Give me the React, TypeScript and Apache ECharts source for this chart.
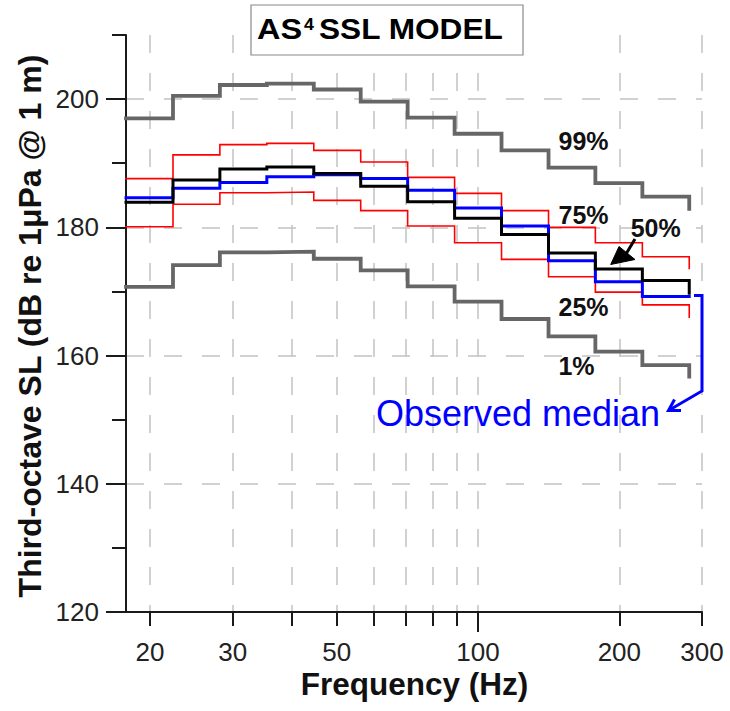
import React, { useEffect, useRef } from "react";
import * as echarts from "echarts";

// Third-octave band edges (Hz): lower edge of each band, plus upper edge of last band
const bandEdgesHz = [17.78, 22.39, 28.18, 35.48, 44.67, 56.23, 70.79, 89.13, 112.2, 141.3, 177.8, 223.9, 281.8];

// Model percentiles (dB re 1 µPa @ 1 m), one value per band + closing value
const p99 = [197.0, 200.5, 202.2, 202.4, 201.5, 199.6, 197.1, 194.6, 192.0, 189.3, 186.9, 184.8, 182.9];
const p75 = [187.6, 191.3, 192.9, 193.1, 192.0, 190.2, 187.8, 185.3, 182.6, 180.0, 177.6, 175.4, 173.6];
const p50 = [183.9, 187.4, 189.1, 189.4, 188.4, 186.4, 184.0, 181.4, 178.9, 176.0, 173.5, 171.7, 169.7];
const p25 = [180.1, 183.6, 185.4, 185.5, 184.2, 182.6, 180.2, 177.6, 175.0, 172.3, 169.9, 167.9, 166.0];
const p1 = [170.7, 174.1, 176.1, 176.2, 175.1, 173.3, 170.8, 168.4, 165.7, 163.0, 160.6, 158.5, 156.7];
const observedMedian = [184.6, 186.1, 187.0, 187.9, 188.2, 187.6, 185.8, 183.0, 180.2, 174.8, 171.5, 169.2, 169.2];

// Axes
const xMinHz = 17.78;
const xMaxHz = 300;
const xTickHz = [20, 30, 40, 50, 60, 70, 80, 90, 100, 200, 300];
const xLabelHz = [20, 30, 50, 100, 200, 300];
const xMajorTickHz = [100];
const yMin = 120;
const yMax = 210;
const yLabelTicks = [120, 140, 160, 180, 200];
const yMinorTicks = [130, 150, 170, 190, 210];

const FONT = "'Liberation Sans', Arial, Helvetica, sans-serif";

const lg = (v: number) => Math.log10(v);
const toSeries = (vals: number[]) => bandEdgesHz.map((e, i) => [lg(e), vals[i]]);

export default function App() {
  const ref = useRef<HTMLDivElement>(null);

  useEffect(() => {
    if (!ref.current) return;
    const chart = echarts.init(ref.current, null, { renderer: "svg" });

    const stepLine = (name: string, vals: number[], color: string, width: number, z: number) => ({
      name,
      type: "line",
      step: "end",
      data: toSeries(vals),
      showSymbol: false,
      symbol: "none",
      xAxisIndex: 0,
      yAxisIndex: 0,
      z,
      lineStyle: { color, width, cap: "square", join: "miter" },
    });

    const pctLabel = (text: string, x: number, y: number) => ({
      type: "text",
      x,
      y,
      z: 50,
      style: {
        text,
        fill: "#111",
        font: `bold 25px ${FONT}`,
        textAlign: "center",
        textVerticalAlign: "middle",
      },
    });

    const option: any = {
      animation: false,
      backgroundColor: "#fff",
      grid: { left: 126, right: 28, top: 35, bottom: 99, containLabel: false },
      xAxis: [
        {
          type: "value",
          min: lg(xMinHz),
          max: lg(xMaxHz),
          position: "bottom",
          axisLine: { show: true, onZero: false, lineStyle: { color: "#1a1a1a", width: 2 } },
          axisTick: {
            show: true,
            inside: false,
            length: 14,
            customValues: xTickHz.map(lg),
            lineStyle: { color: "#1a1a1a", width: 2 },
          },
          axisLabel: {
            show: true,
            customValues: xLabelHz.map(lg),
            formatter: (v: number) => String(Math.round(Math.pow(10, v))),
            margin: 27,
            color: "#222",
            fontSize: 26,
            fontFamily: FONT,
          },
          splitLine: {
            show: true,
            lineStyle: { color: "#c2c2c2", width: 1.5, type: [18, 20] },
          },
        },
        {
          type: "value",
          min: lg(xMinHz),
          max: lg(xMaxHz),
          position: "bottom",
          axisLine: { show: false },
          axisTick: {
            show: true,
            length: 20,
            customValues: xMajorTickHz.map(lg),
            lineStyle: { color: "#1a1a1a", width: 2 },
          },
          axisLabel: { show: false },
          splitLine: { show: false },
        },
      ],
      yAxis: [
        {
          type: "value",
          min: yMin,
          max: yMax,
          position: "left",
          axisLine: { show: true, onZero: false, lineStyle: { color: "#1a1a1a", width: 2 } },
          axisTick: {
            show: true,
            length: 20,
            customValues: yLabelTicks,
            lineStyle: { color: "#1a1a1a", width: 2 },
          },
          axisLabel: {
            show: true,
            customValues: yLabelTicks,
            margin: 27,
            color: "#222",
            fontSize: 26,
            fontFamily: FONT,
          },
          splitLine: {
            show: true,
            lineStyle: { color: "#c2c2c2", width: 1.5, type: [18, 20] },
          },
        },
        {
          type: "value",
          min: yMin,
          max: yMax,
          position: "left",
          axisLine: { show: false },
          axisTick: {
            show: true,
            length: 14,
            customValues: yMinorTicks,
            lineStyle: { color: "#1a1a1a", width: 2 },
          },
          axisLabel: { show: false },
          splitLine: { show: false },
        },
      ],
      series: [
        stepLine("99%", p99, "#666666", 3.8, 2),
        stepLine("1%", p1, "#666666", 3.8, 2),
        stepLine("75%", p75, "#ff0000", 1.6, 3),
        stepLine("25%", p25, "#ff0000", 1.6, 3),
        stepLine("Observed median", observedMedian, "#0000ff", 3, 4),
        stepLine("50%", p50, "#000000", 3, 5),
      ],
      graphic: [
        // title box
        {
          type: "rect",
          z: 40,
          shape: { x: 251, y: 5, width: 272, height: 50 },
          style: { fill: "#ffffff", stroke: "#8a8a8a", lineWidth: 1.2 },
        },
        {
          type: "text",
          z: 41,
          x: 257,
          y: 29,
          scaleX: 1.12,
          style: { text: "AS", fill: "#000", font: `bold 29px ${FONT}`, textAlign: "left", textVerticalAlign: "middle" },
        },
        {
          type: "text",
          z: 41,
          x: 304,
          y: 24.5,
          scaleX: 1.05,
          style: { text: "4", fill: "#000", font: `bold 17px ${FONT}`, textAlign: "left", textVerticalAlign: "middle" },
        },
        {
          type: "text",
          z: 41,
          x: 319,
          y: 29,
          scaleX: 1.09,
          style: { text: "SSL MODEL", fill: "#000", font: `bold 29px ${FONT}`, textAlign: "left", textVerticalAlign: "middle" },
        },
        // axis titles
        {
          type: "text",
          z: 30,
          x: 414.5,
          y: 684,
          style: {
            text: "Frequency (Hz)",
            fill: "#111",
            font: `bold 31.5px ${FONT}`,
            textAlign: "center",
            textVerticalAlign: "middle",
          },
        },
        {
          type: "text",
          z: 30,
          x: 30,
          y: 326,
          rotation: Math.PI / 2,
          style: {
            text: "Third-octave SL (dB re 1μPa @ 1 m)",
            fill: "#111",
            font: `bold 32px ${FONT}`,
            textAlign: "center",
            textVerticalAlign: "middle",
          },
        },
        // percentile labels
        pctLabel("99%", 583.5, 141),
        pctLabel("75%", 583.5, 215),
        pctLabel("50%", 655.7, 227.5),
        pctLabel("25%", 583.5, 306.5),
        pctLabel("1%", 576.5, 365.5),
        // black arrow to 50%
        {
          type: "line",
          z: 45,
          shape: { x1: 635, y1: 239, x2: 626, y2: 254 },
          style: { stroke: "#000", lineWidth: 3 },
        },
        {
          type: "polygon",
          z: 45,
          shape: { points: [[610.7, 264.5], [619, 246.5], [635, 259.5]] },
          style: { fill: "#000", stroke: "#000", lineWidth: 1 },
        },
        // observed median annotation
        {
          type: "polyline",
          z: 45,
          shape: { points: [[694, 295.5], [702, 295.5], [702, 391], [668.5, 410.5]] },
          style: { stroke: "#0000ff", lineWidth: 3, fill: null, lineJoin: "miter" },
        },
        {
          type: "polyline",
          z: 45,
          shape: { points: [[674.5, 399.5], [668.5, 410.5], [681, 410.5]] },
          style: { stroke: "#0000ff", lineWidth: 3, fill: null },
        },
        {
          type: "text",
          z: 45,
          x: 518,
          y: 413,
          style: {
            text: "Observed median",
            fill: "#0000ff",
            font: `36px ${FONT}`,
            textAlign: "center",
            textVerticalAlign: "middle",
          },
        },
      ],
    };

    chart.setOption(option);
    return () => chart.dispose();
  }, []);

  return (
    <div
      ref={ref}
      style={{ position: "absolute", left: 0, top: 0, width: 730, height: 711, background: "#fff" }}
    />
  );
}
